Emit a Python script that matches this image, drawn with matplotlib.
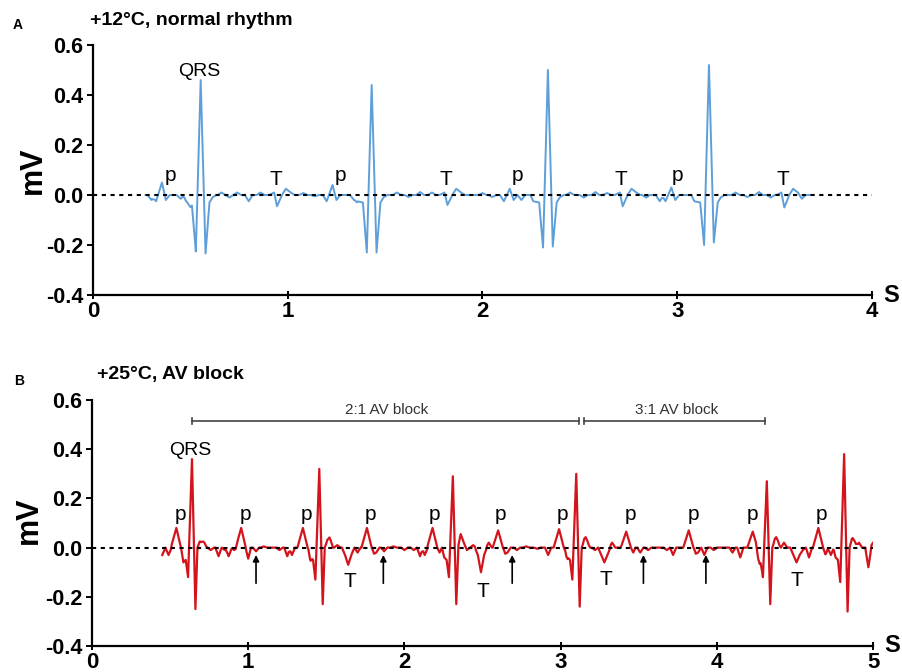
import numpy as np
import matplotlib.pyplot as plt

plt.rcParams['font.family'] = ['Liberation Sans', 'DejaVu Sans']

# ---- panel A: +12 C, normal rhythm ----
a_span = [0.27, 3.69]
a_qrs_t = [0.553, 1.431, 2.336, 3.163]
a_qrs_r = [0.46, 0.44, 0.50, 0.52]
a_qrs_q = [-0.226, -0.23, -0.21, -0.20]
a_qrs_s = [-0.234, -0.23, -0.206, -0.19]
a_p_t = [0.354, 1.23, 2.14, 2.97]
a_p_v = [0.05, 0.04, 0.025, 0.03]
a_t_t = [0.945, 1.82, 2.72, 3.55]
a_t_v = [-0.045, -0.04, -0.045, -0.05]
a_rip_t = [0.30, 0.45, 0.50, 0.66, 0.70, 0.74, 0.80, 0.86, 1.08, 1.14, 1.34,
           1.56, 1.62, 1.68, 1.74, 2.00, 2.05, 2.20, 2.45, 2.52, 2.58, 2.64,
           2.84, 2.91, 3.30, 3.36, 3.42, 3.48, 3.64]
a_rip_v = [-0.02, -0.015, -0.02, 0.01, -0.01, 0.01, -0.025, 0.01, 0.008, -0.005, -0.02,
           0.01, -0.008, 0.012, 0.01, 0.008, -0.008, -0.02, 0.01, -0.01, 0.012, 0.008,
           -0.01, -0.025, 0.01, -0.008, 0.012, -0.01, -0.015]
a_p_lab = [0.40, 1.27, 2.18, 3.00]
a_t_lab = [0.94, 1.81, 2.71, 3.54]

# ---- panel B: +25 C, AV block ----
b_span = [0.45, 5.0]
b_qrs_t = [0.64, 1.455, 2.31, 3.10, 4.32, 4.815]
b_qrs_r = [0.36, 0.32, 0.29, 0.30, 0.27, 0.38]
b_qrs_q = [-0.12, -0.13, -0.12, -0.13, -0.12, -0.14]
b_qrs_s = [-0.25, -0.23, -0.23, -0.24, -0.23, -0.26]
b_p_t = [0.54, 0.955, 1.35, 1.76, 2.18, 2.60, 2.99, 3.42, 3.82, 4.23, 4.65]
b_p_v = [0.08, 0.08, 0.08, 0.08, 0.08, 0.07, 0.075, 0.065, 0.07, 0.065, 0.08]
b_t_t = [1.64, 2.49, 3.28, 4.51]
b_t_v = [-0.07, -0.10, -0.06, -0.06]
b_rip_t = [0.45, 0.49, 0.72, 0.76, 0.81, 0.85, 0.875, 0.91, 1.00, 1.05, 1.10, 1.20,
           1.25, 1.28, 1.52, 1.57, 1.70, 1.82, 1.87, 1.93, 2.00, 2.06, 2.10, 2.13,
           2.36, 2.40, 2.44, 2.54, 2.66, 2.72, 2.78, 2.85, 2.92, 3.16, 3.22, 3.33,
           3.51, 3.56, 3.62, 3.68, 3.72, 3.88, 3.92, 3.98, 4.05, 4.10, 4.15, 4.38,
           4.43, 4.55, 4.59, 4.70, 4.73, 4.87, 4.91, 4.97, 5.0]
b_rip_v = [-0.03, -0.03, 0.01, -0.01, -0.035, -0.01, -0.035, -0.01, -0.025, -0.015, 0.005, -0.01,
           -0.035, -0.03, 0.02, 0.01, -0.02, -0.02, -0.015, 0.005, -0.01, -0.01, -0.035, -0.03,
           0.03, -0.01, 0.01, 0.02, -0.02, -0.01, 0.005, -0.005, -0.03, 0.02, -0.01, 0.02,
           -0.02, -0.01, 0.0, -0.01, -0.03, -0.02, -0.03, -0.01, 0.0, -0.02, -0.04, 0.02,
           0.02, -0.01, -0.04, -0.01, -0.03, 0.015, 0.02, -0.08, 0.02]
b_p_lab = [0.564, 0.98, 1.37, 1.78, 2.19, 2.615, 3.01, 3.45, 3.85, 4.23, 4.67]
b_t_lab = [1.65, 2.50, 3.29, 4.51]
b_t_lab_y = [-0.16, -0.20, -0.15, -0.155]
b_arrows = [1.05, 1.865, 2.69, 3.53, 3.93]
b_block_names = ["2:1 AV block", "3:1 AV block"]
b_block_start = [0.64, 3.15]
b_block_end = [3.115, 4.31]
b_block_text_x = [1.885, 3.745]


def wave(t, centers, shape_t, shape_v):
    out = np.zeros_like(t)
    for c, v in zip(centers, shape_v):
        out += np.interp(t, np.asarray(shape_t) + c, v, left=0, right=0)
    return out


def trace_a():
    t = np.arange(a_span[0], a_span[1], 0.001)
    qrs_t = [-0.09, -0.075, -0.045, -0.025, 0, 0.025, 0.045, 0.06, 0.08]
    qrs_v = [[0, -0.025, -0.03, q, r, s, -0.03, -0.01, 0]
             for q, r, s in zip(a_qrs_q, a_qrs_r, a_qrs_s)]
    y = wave(t, a_qrs_t, qrs_t, qrs_v)
    y += wave(t, a_p_t, [-0.05, -0.03, 0, 0.02, 0.04],
              [[0, -0.025, p, -0.02, 0] for p in a_p_v])
    y += wave(t, a_t_t, [-0.04, -0.015, 0, 0.025, 0.045, 0.07, 0.09],
              [[0, 0.01, v, 0, 0.025, 0.01, 0] for v in a_t_v])
    y += wave(t, a_rip_t, [-0.02, 0, 0.02], [[0, v, 0] for v in a_rip_v])
    return t, y


def trace_b():
    t = np.arange(b_span[0], b_span[1], 0.001)
    qrs_t = [-0.07, -0.055, -0.04, -0.025, 0, 0.022, 0.035, 0.05, 0.07, 0.09]
    qrs_v = [[0, -0.04, -0.05, q, r, s, 0, 0.025, 0.02, 0]
             for q, r, s in zip(b_qrs_q, b_qrs_r, b_qrs_s)]
    y = wave(t, b_qrs_t, qrs_t, qrs_v)
    y += wave(t, b_p_t, [-0.035, 0, 0.03, 0.045, 0.06],
              [[0, p, 0, -0.02, 0] for p in b_p_v])
    y += wave(t, b_t_t, [-0.04, -0.02, 0, 0.02, 0.04],
              [[0, -0.03, v, -0.03, 0] for v in b_t_v])
    y += wave(t, b_rip_t, [-0.02, 0, 0.02], [[0, v, 0] for v in b_rip_v])
    return t, y


def style_axes(ax, xmax):
    ax.set_xlim(0, xmax)
    ax.set_ylim(-0.4, 0.6)
    ax.set_xticks(range(xmax + 1))
    ax.set_yticks([-0.4, -0.2, 0.0, 0.2, 0.4, 0.6])
    ax.set_yticklabels(["%.1f" % v for v in [-0.4, -0.2, 0.0, 0.2, 0.4, 0.6]])
    for side in ["top", "right"]:
        ax.spines[side].set_visible(False)
    for side in ["left", "bottom"]:
        ax.spines[side].set_linewidth(1.6)
    ax.tick_params(axis="y", direction="out", length=4, width=1.4, pad=3,
                   labelsize=15.5)
    ax.tick_params(axis="x", direction="inout", length=6, width=1.4, pad=1,
                   labelsize=16)
    for lab in ax.get_xticklabels() + ax.get_yticklabels():
        lab.set_fontweight("bold")
    ax.set_ylabel("mV", fontsize=22, fontweight="bold")
    ax.yaxis.set_label_coords(-0.058, 0.5)
    ax.text(1.024, 0.0, "S", transform=ax.transAxes, fontsize=17,
            fontweight="bold", ha="center", va="center")
    ax.plot([0, xmax], [0, 0], color="black", lw=1.5, ls=(0, (2, 2.2)), zorder=3)


fig = plt.figure(figsize=(9.02, 6.72), dpi=100)

# panel A
ax1 = fig.add_axes([0.1031, 0.561, 0.8636, 0.372])
ta, ya = trace_a()
ax1.plot(ta, ya, color="#5e9fda", lw=1.4, zorder=2)
style_axes(ax1, 4)
ax1.text(0.545, 0.477, "QRS", fontsize=14, ha="center", va="baseline")
for x in a_p_lab:
    ax1.text(x, 0.055, "p", fontsize=15, ha="center", va="baseline")
for x in a_t_lab:
    ax1.text(x, 0.04, "T", fontsize=15, ha="center", va="baseline")
fig.text(0.0145, 0.963, "A", fontsize=10, fontweight="bold", va="center")
fig.text(0.100, 0.970, "+12\u00b0C, normal rhythm", fontsize=14,
         fontweight="bold", va="center")

# panel B
ax2 = fig.add_axes([0.102, 0.0387, 0.8659, 0.366])
tb, yb = trace_b()
ax2.plot(tb, yb, color="#d3141c", lw=1.6, zorder=2)
style_axes(ax2, 5)
ax2.yaxis.set_label_coords(-0.062, 0.51)
ax2.text(0.63, 0.375, "QRS", fontsize=14, ha="center", va="baseline")
for x in b_p_lab:
    ax2.text(x, 0.113, "p", fontsize=15, ha="center", va="baseline")
for x, y in zip(b_t_lab, b_t_lab_y):
    ax2.text(x, y, "T", fontsize=15, ha="center", va="baseline")
for x in b_arrows:
    ax2.annotate("", xy=(x, -0.03), xytext=(x, -0.145),
                 arrowprops=dict(arrowstyle="-|>", color="black", lw=1.2,
                                 mutation_scale=9, shrinkA=0, shrinkB=0))
for name, x0, x1, xt in zip(b_block_names, b_block_start, b_block_end, b_block_text_x):
    ax2.plot([x0, x1], [0.515, 0.515], color="#444444", lw=1.2)
    ax2.plot([x0, x0], [0.503, 0.527], color="#444444", lw=1.2)
    ax2.plot([x1, x1], [0.503, 0.527], color="#444444", lw=1.2)
    ax2.text(xt, 0.56, name, fontsize=11, ha="center", va="center",
             color="#333333")
fig.text(0.016, 0.433, "B", fontsize=10, fontweight="bold", va="center")
fig.text(0.108, 0.442, "+25\u00b0C, AV block", fontsize=14,
         fontweight="bold", va="center")

fig.savefig("out.png", dpi=100)
